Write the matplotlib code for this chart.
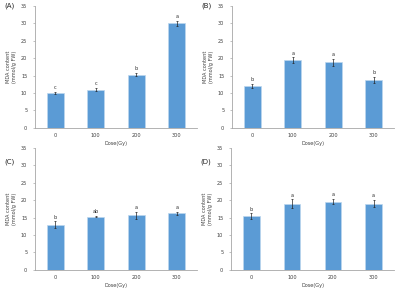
import numpy as np
import matplotlib
matplotlib.use("Agg")
import matplotlib.pyplot as plt

doses = ["0", "100", "200", "300"]
panel_names = ["(A)", "(B)", "(C)", "(D)"]

mda_a = [10.0, 11.0, 15.3, 30.0]
err_a = [0.3, 0.4, 0.4, 0.8]
let_a = ["c", "c", "b", "a"]

mda_b = [12.0, 19.4, 18.8, 13.8]
err_b = [0.7, 0.8, 1.0, 0.9]
let_b = ["b", "a", "a", "b"]

mda_c = [13.0, 15.3, 15.7, 16.2]
err_c = [0.9, 0.2, 1.0, 0.5]
let_c = ["b", "ab", "a", "a"]

mda_d = [15.4, 19.0, 19.6, 19.0]
err_d = [0.8, 1.2, 0.7, 1.0]
let_d = ["b", "a", "a", "a"]

fig = plt.figure(figsize=(4, 2.94), dpi=100)

# axes boxes (left, bottom, width, height) in figure fraction
boxes = [
    [0.0875, 0.565, 0.405, 0.415],
    [0.58, 0.565, 0.405, 0.415],
    [0.0875, 0.082, 0.405, 0.415],
    [0.5775, 0.082, 0.4075, 0.415],
]
# where the (A)..(D) tag sits, in axes fraction
tag_y = [1.0, 1.0, 0.885, 0.885]
data = [(mda_a, err_a, let_a), (mda_b, err_b, let_b),
        (mda_c, err_c, let_c), (mda_d, err_d, let_d)]

bar_col = "#5b9bd5"
fs = 3.6
x = np.arange(len(doses))

for box, (vals, errs, lets), name, ty in zip(boxes, data, panel_names, tag_y):
    ax = fig.add_axes(box)
    ax.bar(x, vals, width=0.41, color=bar_col, edgecolor="#bdd7ee", linewidth=0.5, zorder=2)
    ax.errorbar(x, vals, yerr=errs, fmt="none", ecolor="#222222", elinewidth=0.5,
                capsize=1.0, capthick=0.5, zorder=3)
    for xi, v, e, l in zip(x, vals, errs, lets):
        ax.text(xi, v + e + 0.5, l, ha="center", va="bottom", fontsize=fs, color="#333333")
    ax.set_xlim(-0.5, 3.5)
    ax.set_ylim(0, 35)
    ax.set_yticks(range(0, 36, 5))
    ax.set_xticks(x)
    ax.set_xticklabels(doses)
    for s in ["top", "right"]:
        ax.spines[s].set_visible(False)
    for s in ["left", "bottom"]:
        ax.spines[s].set_color("#a6a6a6")
        ax.spines[s].set_linewidth(0.6)
    ax.tick_params(axis="y", length=1.5, width=0.5, color="#a6a6a6", labelsize=fs,
                   labelcolor="#404040", pad=4)
    ax.tick_params(axis="x", length=0, labelsize=fs, labelcolor="#404040", pad=4)
    ax.set_xlabel("Dose(Gy)", fontsize=fs, color="#404040", labelpad=2)
    ax.set_ylabel("MDA content\n(mmol/g FW)", fontsize=fs, color="#404040", labelpad=3,
                  linespacing=1.1)
    ax.text(-0.19, ty, name, transform=ax.transAxes, fontsize=5, color="#222222",
            ha="left", va="center")

fig.savefig("out.png", dpi=100)
